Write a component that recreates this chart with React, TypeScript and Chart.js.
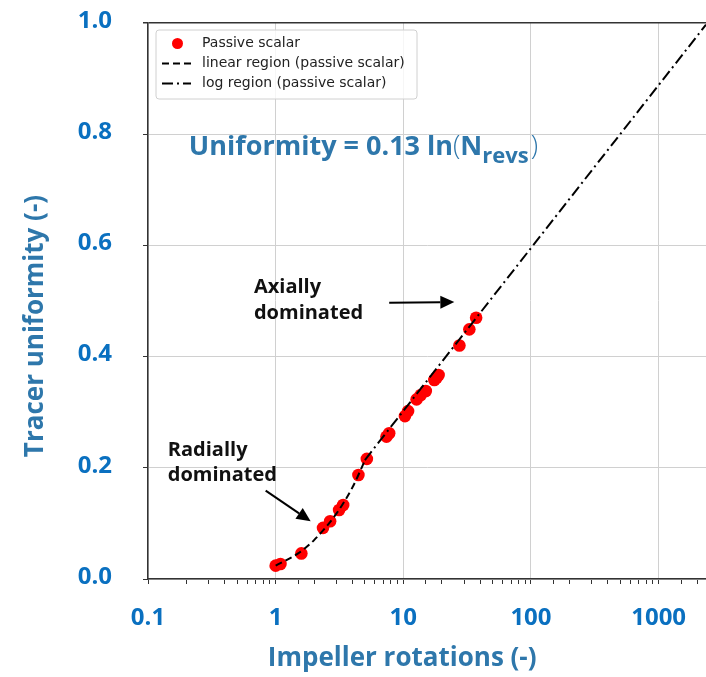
import React, { useEffect, useRef } from "react";
import { Chart, registerables } from "chart.js";

Chart.register(...registerables);

// ---- data ----
const revolutions = [1.0, 1.09, 1.59, 2.35, 2.67, 3.14, 3.38, 4.45, 5.18, 7.38, 7.75, 10.3, 10.9, 12.7, 13.7, 15.0, 17.5, 18.2, 18.9, 27.5, 32.9, 37.2];
const uniformity = [0.024, 0.027, 0.046, 0.092, 0.104, 0.124, 0.133, 0.187, 0.216, 0.256, 0.262, 0.293, 0.302, 0.323, 0.331, 0.338, 0.358, 0.362, 0.367, 0.42, 0.449, 0.47];

const linearRegionX = [1, 1.5, 2, 3, 4, 5];
const linearRegionY = [0.024, 0.046, 0.07, 0.118, 0.165, 0.213];

const logRegionX = [5, 2350];
const logRegionY = [0.214, 0.997];

const xTickLabels = [0.1, 1, 10, 100, 1000];
const yTickLabels = [0, 0.2, 0.4, 0.6, 0.8, 1.0];

const seriesLabels = ["Passive scalar", "linear region (passive scalar)", "log region (passive scalar)"];
const xTitle = "Impeller rotations (-)";
const yTitle = "Tracer uniformity (-)";

const TICK_COLOR = "#0a70c0";
const TITLE_COLOR = "#2e77ab";
const DASHED = [7, 4];
const DASH_DOT = [11, 4, 2, 4];

const isDecade = (v: number) => Math.abs(Math.log10(v) - Math.round(Math.log10(v))) < 1e-6;

function drawArrow(ctx: CanvasRenderingContext2D, x1: number, y1: number, x2: number, y2: number) {
  const ang = Math.atan2(y2 - y1, x2 - x1);
  const hl = 14, hw = 6.5;
  const bx = x2 - hl * Math.cos(ang);
  const by = y2 - hl * Math.sin(ang);
  ctx.save();
  ctx.strokeStyle = "#000";
  ctx.fillStyle = "#000";
  ctx.lineWidth = 2;
  ctx.setLineDash([]);
  ctx.beginPath();
  ctx.moveTo(x1, y1);
  ctx.lineTo(bx, by);
  ctx.stroke();
  ctx.beginPath();
  ctx.moveTo(x2, y2);
  ctx.lineTo(bx - hw * Math.sin(ang), by + hw * Math.cos(ang));
  ctx.lineTo(bx + hw * Math.sin(ang), by - hw * Math.cos(ang));
  ctx.closePath();
  ctx.fill();
  ctx.restore();
}

const overlayPlugin = {
  id: "overlay",
  afterDraw(chart: any) {
    const ctx: CanvasRenderingContext2D = chart.ctx;
    const xs = chart.scales.x;
    const ys = chart.scales.y;
    const area = chart.chartArea;
    const px = (v: number) => xs.getPixelForValue(v);
    const py = (v: number) => ys.getPixelForValue(v);

    ctx.save();
    // ---- legend (matplotlib style) ----
    const lx = area.left + 8, ly = area.top + 7, lw = 261, lh = 69;
    ctx.beginPath();
    (ctx as any).roundRect(lx, ly, lw, lh, 3);
    ctx.fillStyle = "rgba(255,255,255,0.8)";
    ctx.fill();
    ctx.strokeStyle = "#d0d0d0";
    ctx.lineWidth = 1;
    ctx.stroke();
    const ds = chart.data.datasets;
    ctx.font = '14px "DejaVu Sans"';
    ctx.fillStyle = "#222";
    ctx.textBaseline = "middle";
    ctx.textAlign = "left";
    const rows = [ly + 13, ly + 33.5, ly + 53.5];
    ctx.beginPath();
    ctx.arc(lx + 21.5, rows[0] + 0.5, 5.5, 0, Math.PI * 2);
    ctx.fillStyle = "#ff0000";
    ctx.fill();
    ctx.fillStyle = "#222";
    ctx.fillText(ds[0].label, lx + 46, rows[0]);
    [1, 2].forEach((i) => {
      ctx.beginPath();
      ctx.setLineDash(ds[i].borderDash);
      ctx.strokeStyle = "#000";
      ctx.lineWidth = 2;
      ctx.moveTo(lx + 6, rows[i]);
      ctx.lineTo(lx + 35, rows[i]);
      ctx.stroke();
      ctx.setLineDash([]);
      ctx.fillText(ds[i].label, lx + 46, rows[i]);
    });

    // ---- equation ----
    let ex = px(0.209);
    const ey = py(0.762);
    ctx.textBaseline = "alphabetic";
    ctx.fillStyle = TITLE_COLOR;
    const bold27 = 'bold 27px "Open Sans"';
    const paren = '300 27px "Open Sans"';
    const parts: [string, string, number][] = [
      ["Uniformity = 0.13 ln", bold27, 0],
      ["(", paren, 0],
      ["N", bold27, 0],
      ["revs", 'bold 22px "Open Sans"', 8],
      [")", paren, 0],
    ];
    parts.forEach(([t, f, dy]) => {
      ctx.font = f;
      ctx.fillText(t, ex, ey + dy);
      ex += ctx.measureText(t).width + (t === "revs" ? 2 : 0);
    });

    // ---- annotations ----
    ctx.fillStyle = "#111";
    ctx.font = 'bold 20px "Open Sans"';
    ctx.fillText("Axially", px(0.676), py(0.515));
    ctx.fillText("dominated", px(0.676), py(0.467));
    ctx.fillText("Radially", px(0.143), py(0.221));
    ctx.fillText("dominated", px(0.143), py(0.176));
    drawArrow(ctx, px(7.75), py(0.497), px(25.1), py(0.498));
    drawArrow(ctx, px(0.835), py(0.159), px(1.88), py(0.104));

    // ---- axis titles ----
    ctx.fillStyle = TITLE_COLOR;
    ctx.font = 'bold 26px "Open Sans"';
    ctx.textAlign = "center";
    ctx.textBaseline = "middle";
    ctx.fillText(xTitle, px(9.8), area.bottom + 80);
    ctx.save();
    ctx.translate(36, py(0.455));
    ctx.rotate(-Math.PI / 2);
    ctx.fillText(yTitle, 0, 0);
    ctx.restore();
    ctx.restore();
  },
};

const zeroPadding = (s: any) => {
  s.paddingTop = 0;
  s.paddingBottom = 0;
  s.paddingLeft = 0;
  s.paddingRight = 0;
};

export default function App() {
  const ref = useRef<HTMLCanvasElement | null>(null);

  useEffect(() => {
    if (!ref.current) return;
    const scatterData = revolutions.map((x, i) => ({ x, y: uniformity[i] }));
    const linData = linearRegionX.map((x, i) => ({ x, y: linearRegionY[i] }));
    const logData = logRegionX.map((x, i) => ({ x, y: logRegionY[i] }));

    const chart = new Chart(ref.current, {
      type: "line",
      data: {
        datasets: [
          {
            label: seriesLabels[0],
            data: scatterData,
            showLine: false,
            pointRadius: 6.3,
            pointBackgroundColor: "#ff0000",
            pointBorderColor: "#ff0000",
            pointBorderWidth: 0,
            order: 3,
          },
          {
            label: seriesLabels[1],
            data: linData,
            borderColor: "#000",
            borderWidth: 2,
            borderDash: DASHED,
            pointRadius: 0,
            cubicInterpolationMode: "monotone",
            fill: false,
            order: 1,
          },
          {
            label: seriesLabels[2],
            data: logData,
            borderColor: "#000",
            borderWidth: 2,
            borderDash: DASH_DOT,
            pointRadius: 0,
            fill: false,
            order: 2,
          },
        ] as any,
      },
      options: {
        animation: false,
        responsive: false,
        devicePixelRatio: 1,
        events: [],
        layout: { autoPadding: false, padding: { top: 23, left: 0, right: 0, bottom: 0 } },
        plugins: {
          legend: { display: false },
          tooltip: { enabled: false },
        },
        scales: {
          x: {
            type: "logarithmic",
            min: 0.1,
            max: 2350,
            afterFit: (s: any) => {
              s.height = 98;
              zeroPadding(s);
            },
            border: { display: true, color: "#333", width: 1.5 },
            grid: {
              color: (c: any) => (c.tick && isDecade(c.tick.value) ? "#d0d0d0" : "rgba(0,0,0,0)"),
              tickColor: (c: any) => (c.tick && c.tick.value < 2300 ? "#333" : "rgba(0,0,0,0)"),
              tickLength: 5,
              lineWidth: 1,
            },
            ticks: {
              autoSkip: false,
              maxRotation: 0,
              padding: 20,
              color: TICK_COLOR,
              font: { family: '"Open Sans"', size: 24, weight: "bold" },
              callback: (v: any) => {
                const val = Number(v);
                const lab = xTickLabels.find((t) => Math.abs(Math.log10(t) - Math.log10(val)) < 1e-6);
                return lab === undefined ? "" : String(lab);
              },
            },
          },
          y: {
            type: "linear",
            min: 0,
            max: 1,
            afterFit: (s: any) => {
              s.width = 148;
              zeroPadding(s);
            },
            border: { display: true, color: "#333", width: 1.5 },
            grid: {
              color: (c: any) => (c.tick && c.tick.value >= 0.999 ? "#333" : "#d0d0d0"),
              lineWidth: (c: any) => (c.tick && c.tick.value >= 0.999 ? 1.5 : 1),
              tickColor: "#333",
              tickLength: 5,
            },
            ticks: {
              stepSize: 0.2,
              padding: 31,
              labelOffset: -2,
              color: TICK_COLOR,
              font: { family: '"Open Sans"', size: 24, weight: "bold" },
              callback: (v: any) => {
                const val = Number(v);
                const lab = yTickLabels.find((t) => Math.abs(t - val) < 1e-6);
                return lab === undefined ? "" : lab.toFixed(1);
              },
            },
          },
        },
      },
      plugins: [overlayPlugin],
    });
    return () => chart.destroy();
  }, []);

  return (
    <div style={{ position: "absolute", left: 0, top: 0, width: 706, height: 677, background: "#fff" }}>
      <canvas ref={ref} width={706} height={677} style={{ width: 706, height: 677, display: "block" }} />
    </div>
  );
}
